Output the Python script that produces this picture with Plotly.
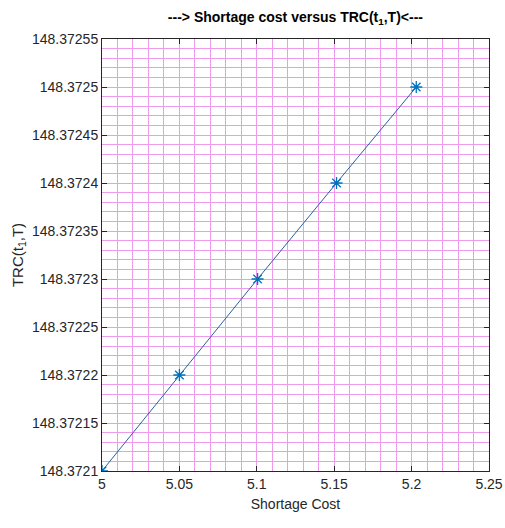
import plotly.graph_objects as go

shortage_cost = [5.0, 5.05, 5.1005, 5.151505, 5.20302]
trc = [148.3721, 148.3722, 148.3723, 148.3724, 148.3725]

x_tickvals = [5.0, 5.05, 5.1, 5.15, 5.2, 5.25]
x_ticktext = ["5", "5.05", "5.1", "5.15", "5.2", "5.25"]
y_tickvals = [148.3721, 148.37215, 148.3722, 148.37225, 148.3723,
              148.37235, 148.3724, 148.37245, 148.3725, 148.37255]
y_ticktext = ["148.3721", "148.37215", "148.3722", "148.37225", "148.3723",
              "148.37235", "148.3724", "148.37245", "148.3725", "148.37255"]

grid_col = "rgb(238,155,238)"
font_fam = "Liberation Sans, Arial, sans-serif"

fig = go.Figure()
fig.add_trace(go.Scatter(
    x=shortage_cost, y=trc, mode="lines+markers",
    line=dict(color="#2a5fa0", width=1),
    marker=dict(symbol="asterisk-open", size=10, color="#0072BD",
                line=dict(color="#0072BD", width=1.3)),
    showlegend=False,
))

fig.update_layout(
    width=505, height=528,
    margin=dict(l=102, r=16, t=39, b=57, autoexpand=False),
    paper_bgcolor="white", plot_bgcolor="white",
    font=dict(family=font_fam, size=13, color="#262626"),
    title=dict(text="<b>---> Shortage cost versus TRC(t<sub>1</sub>,T)<---</b>",
               x=0.585, xanchor="center", y=0.968, yanchor="middle",
               font=dict(size=14, color="black", family=font_fam)),
)

fig.update_xaxes(
    range=[5.0, 5.25], tickvals=x_tickvals, ticktext=x_ticktext,
    showline=True, linecolor="#262626", linewidth=1, mirror="ticks",
    ticks="inside", ticklen=5, tickcolor="#262626",
    showgrid=True, gridcolor=grid_col, gridwidth=1,
    minor=dict(tick0=5.0, dtick=0.01, showgrid=True, gridcolor=grid_col, gridwidth=1),
    zeroline=False, automargin=False,
    title=dict(text="Shortage Cost", font=dict(size=14, color="#262626"), standoff=8),
    tickfont=dict(size=14, color="#262626"),
)
fig.update_yaxes(
    range=[148.3721, 148.37255], tickvals=y_tickvals, ticktext=y_ticktext,
    showline=True, linecolor="#262626", linewidth=1, mirror="ticks",
    ticks="inside", ticklen=5, tickcolor="#262626",
    showgrid=True, gridcolor=grid_col, gridwidth=1,
    minor=dict(tick0=148.3721, dtick=0.00001, showgrid=True, gridcolor=grid_col, gridwidth=1),
    zeroline=False, automargin=False,
    title=dict(text="TRC(t<sub>1</sub>,T)", font=dict(size=15, color="#262626"), standoff=4),
    tickfont=dict(size=14, color="#262626"),
)

fig.write_html("out.html")
